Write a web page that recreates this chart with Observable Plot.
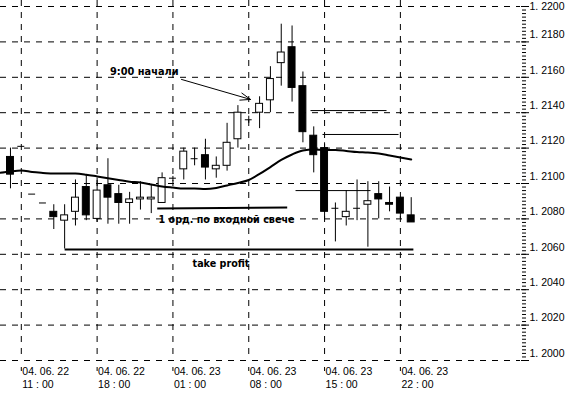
<!DOCTYPE html>
<html>
<head>
<meta charset="utf-8">
<script src="https://cdn.jsdelivr.net/npm/d3@7"></script>
<script src="https://cdn.jsdelivr.net/npm/@observablehq/plot@0.6"></script>
<style>
  html, body { margin: 0; padding: 0; background: #fff; }
  #chart { width: 571px; height: 393px; overflow: hidden; }
</style>
</head>
<body>
<div id="chart"></div>
<script>
// Hours counted from 2004-06-22 00:00 (hourly candles)
const hours = [10,11,12,13,14,15,16,17,18,19,20,21,22,23,24,25,26,27,28,29,30,31,32,33,34,35,36,37,38,39,40,41,42,43,44,45,46,47];
const open  = [1.2115,1.2121,1.2094,1.2089,1.2084,1.2079,1.2084,1.2098,1.2080,1.2099,1.2094,1.2089,1.2091,1.2091,1.2089,1.2103,1.2108,1.2114,1.2116,1.2108,1.2110,1.2125,1.2136,1.2140,1.2147,1.2168,1.2177,1.2155,1.2127,1.2120,1.2086,1.2081,1.2086,1.2088,1.2094,1.2089,1.2092,1.2082];
const high  = [1.2120,1.2121,1.2094,1.2089,1.2088,1.2088,1.2102,1.2105,1.2103,1.2114,1.2099,1.2095,1.2101,1.2099,1.2106,1.2104,1.2120,1.2120,1.2125,1.2115,1.2134,1.2144,1.2138,1.2149,1.2166,1.2190,1.2189,1.2163,1.2132,1.2123,1.2089,1.2096,1.2102,1.2101,1.2101,1.2098,1.2092,1.2092];
const low   = [1.2097,1.2121,1.2094,1.2089,1.2074,1.2063,1.2076,1.2079,1.2078,1.2077,1.2077,1.2077,1.2085,1.2083,1.2089,1.2101,1.2102,1.2110,1.2102,1.2103,1.2107,1.2120,1.2134,1.2131,1.2140,1.2155,1.2146,1.2123,1.2106,1.2080,1.2067,1.2076,1.2079,1.2064,1.2080,1.2084,1.2080,1.2078];
const close = [1.2105,1.2121,1.2094,1.2089,1.2081,1.2082,1.2092,1.2082,1.2096,1.2092,1.2089,1.2091,1.2092,1.2092,1.2103,1.2103,1.2118,1.2114,1.2109,1.2110,1.2123,1.2140,1.2136,1.2145,1.2159,1.2174,1.2154,1.2129,1.2116,1.2084,1.2086,1.2084,1.2086,1.2090,1.2091,1.2088,1.2083,1.2078];

// Moving average (hour 9 .. 47)
const maHours = [9,10,11,12,13,14,15,16,17,18,19,20,21,22,23,24,25,26,27,28,29,30,31,32,33,34,35,36,37,38,39,40,41,42,43,44,45,46,47];
const maValues = [1.2106,1.21068,1.21073,1.21065,1.2106,1.21056,1.21056,1.21056,1.2105,1.2104,1.2103,1.2102,1.2101,1.21006,1.20994,1.20983,1.20977,1.20972,1.20972,1.20969,1.20975,1.20989,1.21003,1.2102,1.21054,1.21093,1.21133,1.21164,1.21186,1.21192,1.21189,1.21189,1.21184,1.21178,1.21175,1.21169,1.21158,1.21147,1.21136];

// Drawn levels
const thickLines = [
  {h1: 23.55, h2: 35.55, p1: 1.20859, p2: 1.20864},   // 1 орд. по входной свече
  {h1: 15.0,  h2: 47.2,  p1: 1.20627, p2: 1.20627}    // take profit
];
const thinLines = [
  {h1: 37.70, h2: 44.72, p: 1.21412},
  {h1: 38.81, h2: 45.83, p: 1.21277},
  {h1: 36.32, h2: 43.24, p: 1.20960}
];
const arrowData = [{h1: 25.79, p1: 1.21588, h2: 32.16, p2: 1.21475}];
const notesEnd = [{h: 25.52, p: 1.21633, text: "9:00 начали"}];
const notesStart = [
  {h: 23.67, p: 1.20797, text: "1 орд. по входной свече"},
  {h: 26.81, p: 1.20548, text: "take profit"}
];

// Axis ticks
const xTicks = [11, 18, 25, 32, 39, 46];
const xDateLabels = ["04. 06. 22","04. 06. 22","04. 06. 23","04. 06. 23","04. 06. 23","04. 06. 23"];
const xTimeLabels = ["11 : 00","18 : 00","01 : 00","08 : 00","15 : 00","22 : 00"];
const yMajor = [1.2000,1.2020,1.2040,1.2060,1.2080,1.2100,1.2120,1.2140,1.2160,1.2180,1.2200];
const yMinor = d3.range(0, 101).map(k => 1.2 + k * 0.0002);
const yLabelsLow = yMajor.filter(d => d < 1.2199);
const yLabelsTop = yMajor.filter(d => d >= 1.2199);
const fmtPrice = d => "1. " + d.toFixed(4).slice(2);

const candles = hours.map((h, i) => ({h, o: open[i], hi: high[i], lo: low[i], c: close[i]}));
const bulls = candles.filter(d => d.c > d.o);
const bears = candles.filter(d => d.c < d.o);
const dojis = candles.filter(d => d.c === d.o);
const ma = maHours.map((h, i) => ({h, v: maValues[i]}));
const hw = 0.32;
const dash = "6,6";
const boldFont = "'DejaVu Sans', sans-serif";

const chart = Plot.plot({
  width: 571,
  height: 393,
  marginLeft: 0,
  marginRight: 51,
  marginTop: 0,
  marginBottom: 33,
  x: {type: "linear", domain: [9.0794, 57.09], range: [0, 520], axis: null},
  y: {type: "linear", domain: [1.2000, 1.2200], range: [360, 6], axis: null},
  style: {background: "#fff", color: "#000", fontFamily: "'Liberation Sans', Arial, sans-serif", overflow: "hidden"},
  marks: [
    Plot.gridY(yMajor, {stroke: "#000", strokeOpacity: 1, strokeDasharray: dash}),
    Plot.gridX(xTicks, {stroke: "#000", strokeOpacity: 1, strokeDasharray: dash}),
    // price scale ticks
    Plot.axisY(yMinor, {anchor: "right", tickSize: 4, tickFormat: () => "", stroke: "#000", dx: 1}),
    Plot.axisY(yMajor, {anchor: "right", tickSize: 8, tickFormat: () => "", stroke: "#000"}),
    Plot.text(yLabelsLow, {y: d => d, frameAnchor: "right", text: fmtPrice, textAnchor: "start", dx: 9, dy: -7, fontSize: 10.5, fill: "#000"}),
    Plot.text(yLabelsTop, {y: d => d, frameAnchor: "right", text: fmtPrice, textAnchor: "start", dx: 9, dy: 0, fontSize: 10.5, fill: "#000"}),
    // time scale
    Plot.axisX(xTicks, {anchor: "bottom", tickSize: 4, tickFormat: () => "", stroke: "#000", dy: 7}),
    Plot.text(xTicks, {x: d => d, frameAnchor: "bottom", text: (d, i) => xDateLabels[i] + "\n" + xTimeLabels[i], textAnchor: "start", lineAnchor: "top", dx: 1, dy: 6, lineHeight: 1.2, fontSize: 10.5, letterSpacing: -0.4, fill: "#000"}),
    // level lines
    Plot.link(thinLines, {x1: "h1", x2: "h2", y1: "p", y2: "p", stroke: "#000", strokeWidth: 1}),
    Plot.link(thickLines, {x1: "h1", x2: "h2", y1: "p1", y2: "p2", stroke: "#000", strokeWidth: 2}),
    // candles
    Plot.ruleX(candles, {x: "h", y1: "lo", y2: "hi", stroke: "#000"}),
    Plot.rect(bulls, {x1: d => d.h - hw, x2: d => d.h + hw, y1: "o", y2: "c", fill: "#fff", stroke: "#000"}),
    Plot.rect(bears, {x1: d => d.h - hw, x2: d => d.h + hw, y1: "o", y2: "c", fill: "#000", stroke: "#000"}),
    Plot.ruleY(dojis, {y: "o", x1: d => d.h - hw, x2: d => d.h + hw, stroke: "#000"}),
    // moving average
    Plot.line(ma, {x: "h", y: "v", stroke: "#000", strokeWidth: 2, curve: "monotone-x", clip: true}),
    // annotation
    Plot.arrow(arrowData, {x1: "h1", y1: "p1", x2: "h2", y2: "p2", stroke: "#000", strokeWidth: 1, headLength: 16, headAngle: 40}),
    Plot.text(notesEnd, {x: "h", y: "p", text: "text", textAnchor: "end", fontWeight: "bold", fontSize: 9.8, fontFamily: boldFont, fill: "#000"}),
    Plot.text(notesStart, {x: "h", y: "p", text: "text", textAnchor: "start", fontWeight: "bold", fontSize: 9.6, fontFamily: boldFont, fill: "#000"})
  ]
});
document.getElementById("chart").appendChild(chart);
</script>
</body>
</html>
